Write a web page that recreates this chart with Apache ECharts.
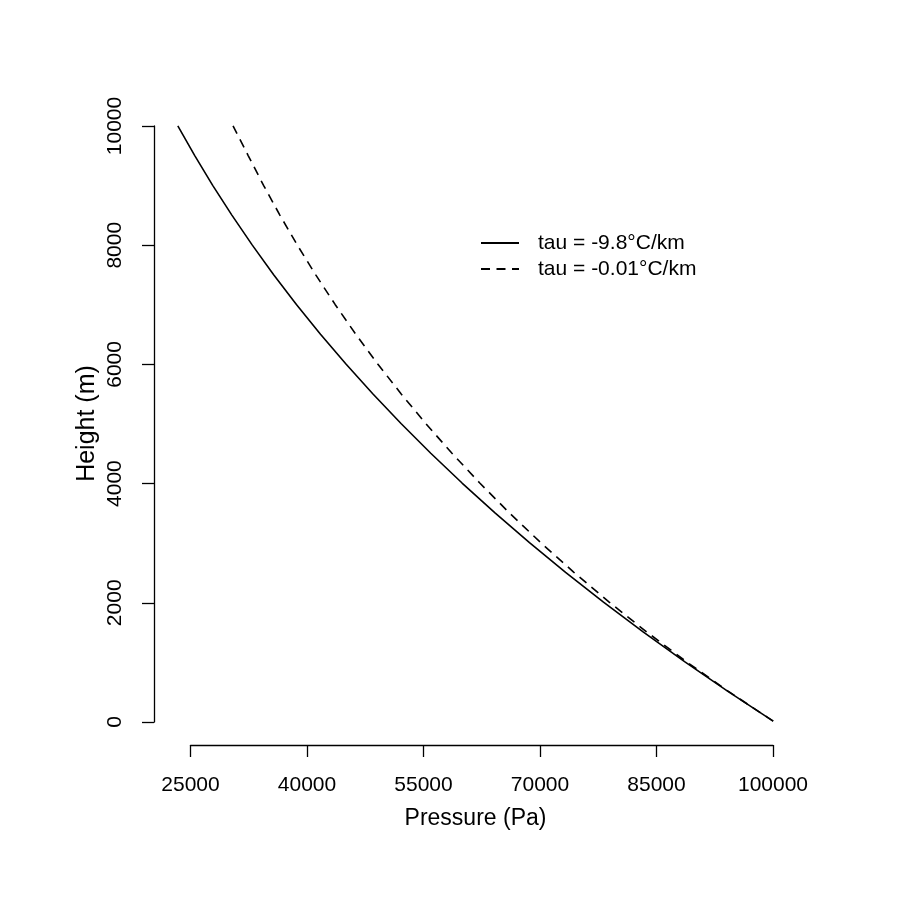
<!DOCTYPE html>
<html>
<head>
<meta charset="utf-8">
<script src="https://cdn.jsdelivr.net/npm/echarts@6/dist/echarts.min.js"></script>
<style>
  html, body { margin: 0; padding: 0; background: #fff; }
  #main { width: 900px; height: 900px; }
</style>
</head>
<body>
<div id="main"></div>
<script>
const heights = [0, 500, 1000, 1500, 2000, 2500, 3000, 3500, 4000, 4500, 5000,
                 5500, 6000, 6500, 7000, 7500, 8000, 8500, 9000, 9500, 10000];
// tau = -9.8 C/km (solid)
const pressureDry = [100000, 94170, 88590, 83250, 78150, 73270, 68620, 64180, 59940, 55910, 52080,
                     48440, 44990, 41710, 38610, 35680, 32910, 30300, 27830, 25520, 23340];
// tau = -0.01 C/km (dashed)
const pressureIso = [100000, 94240, 88810, 83700, 78880, 74340, 70060, 66020, 62220, 58640, 55260,
                     52080, 49080, 46250, 43590, 41080, 38710, 36480, 34380, 32400, 30450];
const xTicks = [25000, 40000, 55000, 70000, 85000, 100000];
const yTicks = [0, 2000, 4000, 6000, 8000, 10000];
const seriesNames = ['tau = -9.8°C/km', 'tau = -0.01°C/km'];

const FONT = '"Liberation Sans", Arial, Helvetica, sans-serif';
const FS = 21;

const toPairs = (xs, ys) => xs.map((x, i) => [x, ys[i]]);
const plain = (v) => String(v);

// padding of 4% like R's default xaxs/yaxs = "r"
const xMin = Math.min(...pressureDry, ...pressureIso);
const xMax = Math.max(...pressureDry, ...pressureIso);
const xPad = (xMax - xMin) * 0.04;
const yPad = (heights[heights.length - 1] - heights[0]) * 0.04;

const hidden = { show: false };
// symbols are invisible so the legend only shows the line
const noSymbol = { color: 'rgba(0,0,0,0)', borderWidth: 0 };

let chart = echarts.init(document.getElementById('main'), null, { renderer: 'canvas' });

chart.setOption({
    animation: false,
    backgroundColor: '#ffffff',
    textStyle: { fontFamily: FONT, color: '#000' },
    grid: [
        // plotting region
        { left: 154, right: 103, top: 102, bottom: 155 },
        // x axis drawn from first to last tick
        { left: 190.5, right: 127, top: 102, bottom: 155 },
        // y axis drawn from first to last tick
        { left: 154, right: 103, top: 126, bottom: 178 }
    ],
    xAxis: [
        {
            gridIndex: 0, type: 'value', min: xMin - xPad, max: xMax + xPad,
            name: 'Pressure (Pa)', nameLocation: 'middle', nameGap: 62,
            nameTextStyle: { fontSize: 23, fontFamily: FONT, color: '#000' },
            axisLine: hidden, axisTick: hidden, axisLabel: hidden, splitLine: hidden
        },
        {
            gridIndex: 1, type: 'value', min: xTicks[0], max: xTicks[xTicks.length - 1],
            axisLine: { show: true, lineStyle: { color: '#000', width: 1.3 } },
            axisTick: { show: true, length: 12, lineStyle: { color: '#000', width: 1.3 }, customValues: xTicks },
            axisLabel: {
                show: true, customValues: xTicks, margin: 30, formatter: plain,
                fontSize: FS, fontFamily: FONT, color: '#000'
            },
            splitLine: hidden
        },
        { gridIndex: 2, type: 'value', show: false }
    ],
    yAxis: [
        {
            gridIndex: 0, type: 'value', min: heights[0] - yPad, max: heights[heights.length - 1] + yPad,
            name: 'Height (m)', nameLocation: 'middle', nameGap: 54,
            nameTextStyle: { fontSize: 25, fontFamily: FONT, color: '#000' },
            axisLine: hidden, axisTick: hidden, axisLabel: hidden, splitLine: hidden
        },
        { gridIndex: 1, type: 'value', show: false },
        {
            gridIndex: 2, type: 'value', min: yTicks[0], max: yTicks[yTicks.length - 1], interval: 2000,
            axisLine: { show: true, lineStyle: { color: '#000', width: 1.3 } },
            axisTick: { show: true, length: 12, lineStyle: { color: '#000', width: 1.3 } },
            axisLabel: {
                show: true, rotate: 90, margin: 28, formatter: plain,
                fontSize: FS, fontFamily: FONT, color: '#000'
            },
            splitLine: hidden
        }
    ],
    legend: {
        orient: 'vertical',
        left: 480,
        top: 230,
        padding: 0,
        itemWidth: 38,
        itemHeight: 14,
        itemGap: 0,
        itemStyle: noSymbol,
        textStyle: { fontSize: FS, fontFamily: FONT, color: '#000', lineHeight: 26, padding: [0, 0, 0, 14] },
        data: seriesNames
    },
    series: [
        {
            name: seriesNames[0],
            type: 'line',
            xAxisIndex: 0, yAxisIndex: 0,
            data: toPairs(pressureDry, heights),
            showSymbol: false, symbol: 'none',
            lineStyle: { color: '#000', width: 1.6, type: 'solid' },
            itemStyle: noSymbol
        },
        {
            name: seriesNames[1],
            type: 'line',
            xAxisIndex: 0, yAxisIndex: 0,
            data: toPairs(pressureIso, heights),
            showSymbol: false, symbol: 'none',
            lineStyle: { color: '#000', width: 1.6, type: [9, 6.5] },
            itemStyle: noSymbol
        }
    ]
});
</script>
</body>
</html>
